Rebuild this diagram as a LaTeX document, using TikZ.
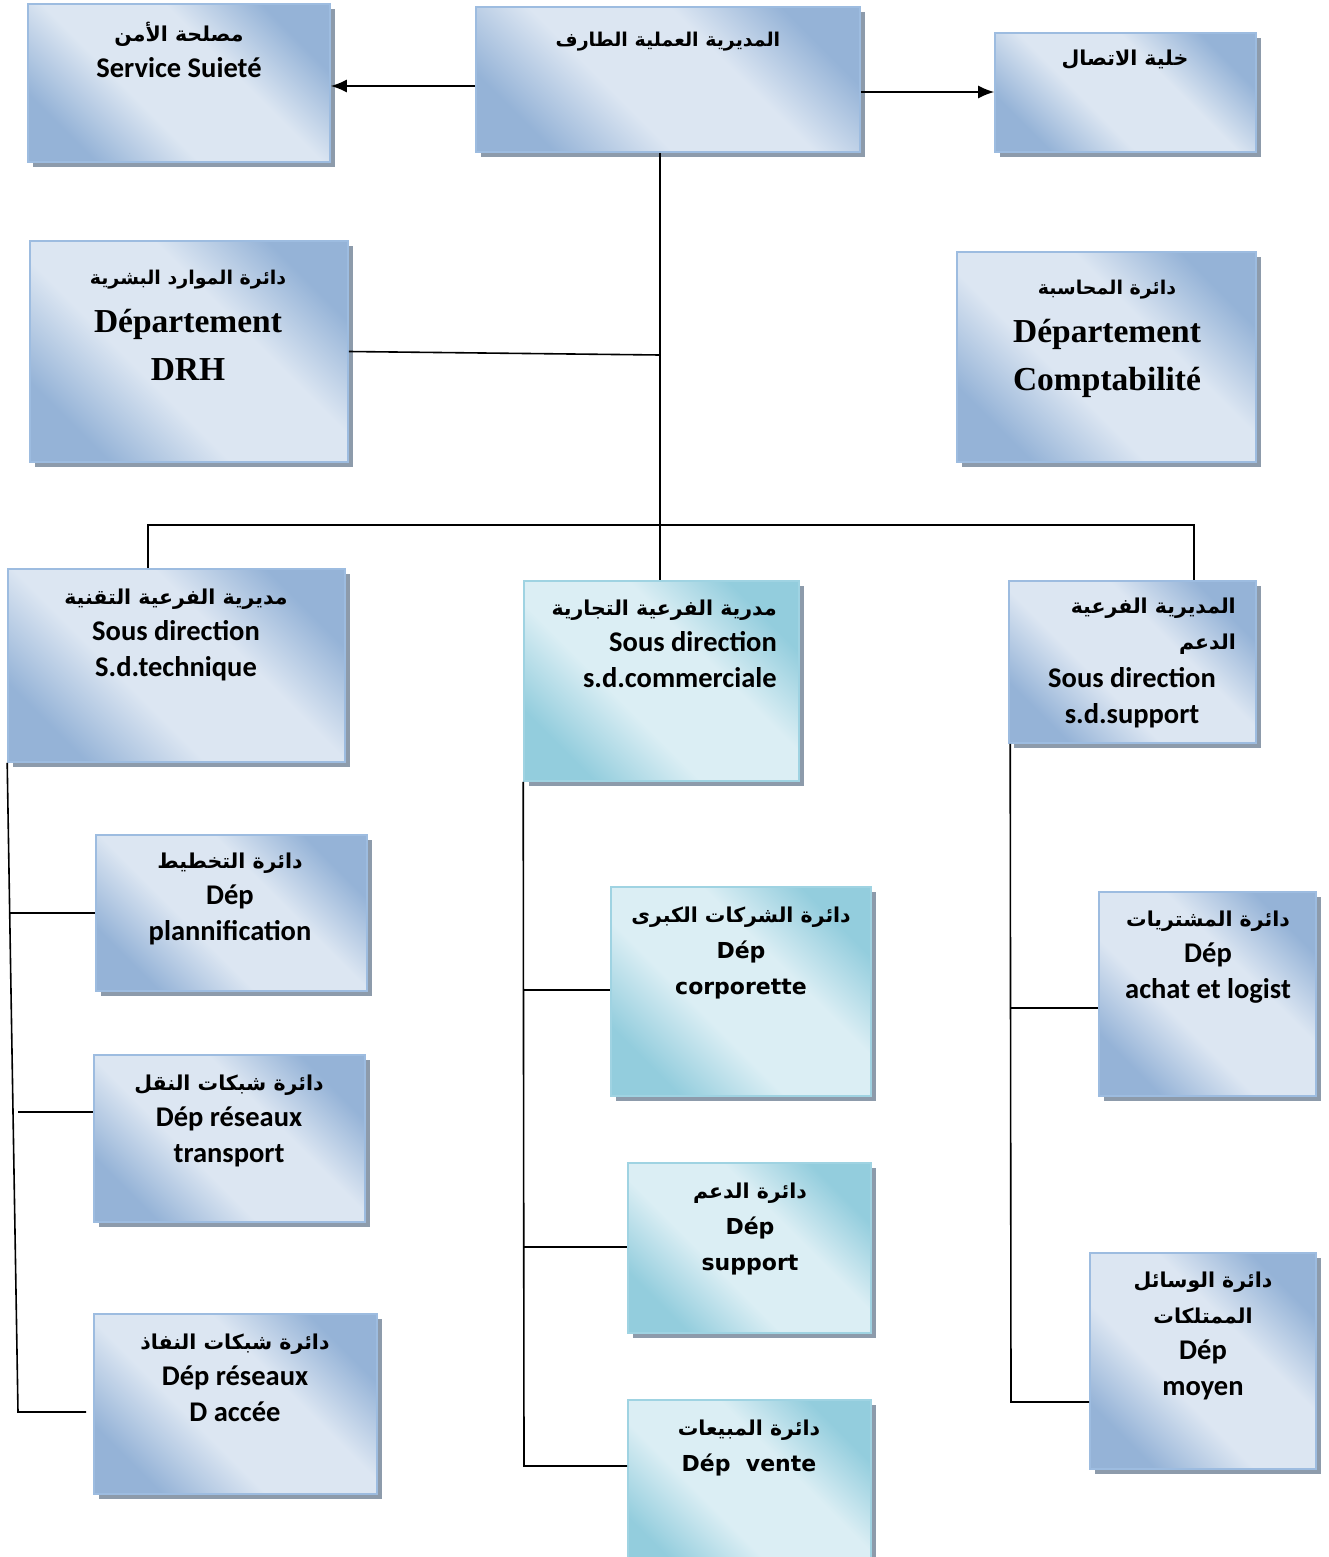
\documentclass[tikz,border=0pt]{standalone}
\usepackage{fontspec}
\setmainfont{Carlito}
\newfontfamily\arabicfont[Script=Arabic]{DejaVu Sans}
\newfontfamily\dvsans{DejaVu Sans}
\newfontfamily\libserif{Liberation Serif}
\TeXXeTstate=1
\usetikzlibrary{arrows.meta,shadows}

\definecolor{blueDk}{HTML}{95B3D7}
\definecolor{blueLt}{HTML}{DCE6F2}
\definecolor{tealDk}{HTML}{93CDDD}
\definecolor{tealLt}{HTML}{DBEEF4}
\definecolor{blueEdge}{HTML}{9DBCE0}
\definecolor{tealEdge}{HTML}{9FD3E2}
\definecolor{shadowGrey}{HTML}{8D9BAB}

\pgfdeclareverticalshading{blueshade}{100bp}{color(0bp)=(blueDk); color(25bp)=(blueDk); color(41bp)=(blueLt); color(60bp)=(blueLt); color(75bp)=(blueDk); color(100bp)=(blueDk)}
\pgfdeclareverticalshading{tealshade}{100bp}{color(0bp)=(tealDk); color(25bp)=(tealDk); color(41bp)=(tealLt); color(60bp)=(tealLt); color(75bp)=(tealDk); color(100bp)=(tealDk)}

% Arabic line, right to left
\newcommand{\artx}[1]{{\arabicfont\fontsize{20.5}{36}\selectfont\beginR #1\endR}}
% Arabic line in the smaller naskh-sized headings
\newcommand{\artxs}[1]{{\arabicfont\fontsize{19}{36}\selectfont\beginR #1\endR}}

\tikzset{
  box/.style={rectangle, inner sep=0pt, line width=1.6pt, shading angle=-45,
    drop shadow={shadow xshift=5pt, shadow yshift=-5pt, fill=shadowGrey, opacity=1}},
  bluebox/.style={box, draw=blueEdge, shading=blueshade},
  tealbox/.style={box, draw=tealEdge, shading=tealshade},
  link/.style={line width=1.6pt, black},
  arr/.style={link, -{Latex[length=16pt,width=13pt]}},
  lab/.style={align=center, inner sep=0pt, anchor=north, font=\bfseries\fontsize{28.5}{36}\selectfont},
  seriflab/.style={lab, font=\libserif\bfseries\fontsize{33.5}{48}\selectfont},
  verdlab/.style={lab, font=\dvsans\bfseries\fontsize{22}{36}\selectfont},
}

\begin{document}
\begin{tikzpicture}[x=1pt, y=-1pt]
\useasboundingbox (0,0) rectangle (1328,1557);
\clip (0,0) rectangle (1328,1557);

% boxes
\node[bluebox, minimum width=302pt, minimum height=158pt] (sec) at (179,83) {};
\node[bluebox, minimum width=384pt, minimum height=145pt] (top) at (668,79.5) {};
\node[bluebox, minimum width=261pt, minimum height=119pt] (com) at (1125.5,92.5) {};
\node[bluebox, minimum width=318pt, minimum height=221pt] (drh) at (189,351.5) {};
\node[bluebox, minimum width=299pt, minimum height=210pt] (cpt) at (1106.5,357) {};
\node[bluebox, minimum width=337pt, minimum height=193pt] (tec) at (176.5,665.5) {};
\node[tealbox, minimum width=275pt, minimum height=200pt] (cml) at (661.5,681) {};
\node[bluebox, minimum width=247pt, minimum height=162pt] (sup) at (1132.5,662) {};
\node[bluebox, minimum width=271pt, minimum height=156pt] (pla) at (231.5,913) {};
\node[bluebox, minimum width=271pt, minimum height=167pt] (tra) at (229.5,1138.5) {};
\node[bluebox, minimum width=283pt, minimum height=180pt] (acc) at (235.5,1404) {};
\node[tealbox, minimum width=260pt, minimum height=209pt] (cor) at (741,991.5) {};
\node[tealbox, minimum width=243pt, minimum height=170pt] (dsu) at (749.5,1248) {};
\node[tealbox, minimum width=243pt, minimum height=180pt] (ven) at (749.5,1490) {};
\node[bluebox, minimum width=217pt, minimum height=204pt] (ach) at (1207.5,994) {};
\node[bluebox, minimum width=226pt, minimum height=216pt] (moy) at (1203,1361) {};

% labels
\node[lab] (secT) at (179,22) {\artx{مصلحة الأمن}\\Service Suieté};
\node[lab] (topT) at (668,32) {\artxs{المديرية العملية الطارف}};
\node[lab] (comT) at (1125,50) {\artx{خلية الاتصال}};
\node[seriflab] (drhT) at (188,270) {\artxs{دائرة الموارد البشرية}\\Département\\DRH};
\node[seriflab] (cptT) at (1107,280) {\artxs{دائرة المحاسبة}\\Département\\Comptabilité};
\node[lab] (tecT) at (176,589) {\artx{مديرية الفرعية التقنية}\\Sous direction\\S.d.technique};
\node[lab, align=right, anchor=north east] (cmlT) at (777,600) {\artx{مدرية الفرعية التجارية}\\Sous direction\\s.d.commerciale};
\node[lab, align=right, anchor=north east] (supA) at (1236,598) {\artx{المديرية الفرعية}\\\artx{الدعم}};
\node[lab] (supT) at (1132,667) {Sous direction\\s.d.support};
\node[lab] (plaT) at (230,853) {\artx{دائرة التخطيط}\\Dép\\plannification};
\node[lab] (traT) at (229,1075) {\artx{دائرة شبكات النقل}\\Dép réseaux\\transport};
\node[lab] (accT) at (235,1334) {\artx{دائرة شبكات النفاذ}\\Dép réseaux\\D accée};
\node[verdlab] (corT) at (741,907) {\artx{دائرة الشركات الكبرى}\\Dép\\corporette};
\node[verdlab] (dsuT) at (750,1183) {\artx{دائرة الدعم}\\Dép\\support};
\node[verdlab] (venT) at (749,1420) {\artx{دائرة المبيعات}\\Dép~~vente};
\node[lab] (achT) at (1208,911) {\artx{دائرة المشتريات}\\Dép\\achat et logist};
\node[lab] (moyT) at (1203,1272) {\artx{دائرة الوسائل}\\\artx{الممتلكات}\\Dép\\moyen};

% junction points of the tree
\coordinate (jdrh) at (660,355);
\coordinate (busL) at (148,525);
\coordinate (busR) at (1194,525);
\coordinate (lp) at (9,913);
\coordinate (lq) at (18,1112);
\coordinate (lb) at (18,1412);
\coordinate (lbe) at (86,1412);
\coordinate (cb) at (524,1466);
\coordinate (ca) at (524,990);
\coordinate (cc) at (524,1247);
\coordinate (ra) at (1011,1008);
\coordinate (rb) at (1011,1402);

% top arrows
\draw[arr] ([yshift=-6.5pt]top.west) -- ([yshift=-3pt]sec.east);
\draw[arr] ([yshift=-12.5pt]top.east) -- ([yshift=0.5pt]com.west);

% trunk and bus
\draw[link] ([xshift=-8pt]top.south) -- ([xshift=-1.5pt]cml.north);
\draw[link] (drh.east) -- (jdrh);
\draw[link] (tec.north -| busL) -- (busL) -- (busR) -- (sup.north -| busR);

% left column
\draw[link] (tec.south west) -- (lb) -- (lbe);
\draw[link] (lp) -- (pla.west);
\draw[link] (lq) -- (tra.west |- lq);

% centre column
\draw[link] (cml.south west) -- (cb) -- (cb -| ven.west);
\draw[link] (ca) -- (ca -| cor.west);
\draw[link] (cc) -- (cc -| dsu.west);

% right column
\draw[link] ([xshift=2pt]sup.south west) -- (rb) -- (rb -| moy.west);
\draw[link] (ra) -- (ra -| ach.west);
\end{tikzpicture}
\end{document}
